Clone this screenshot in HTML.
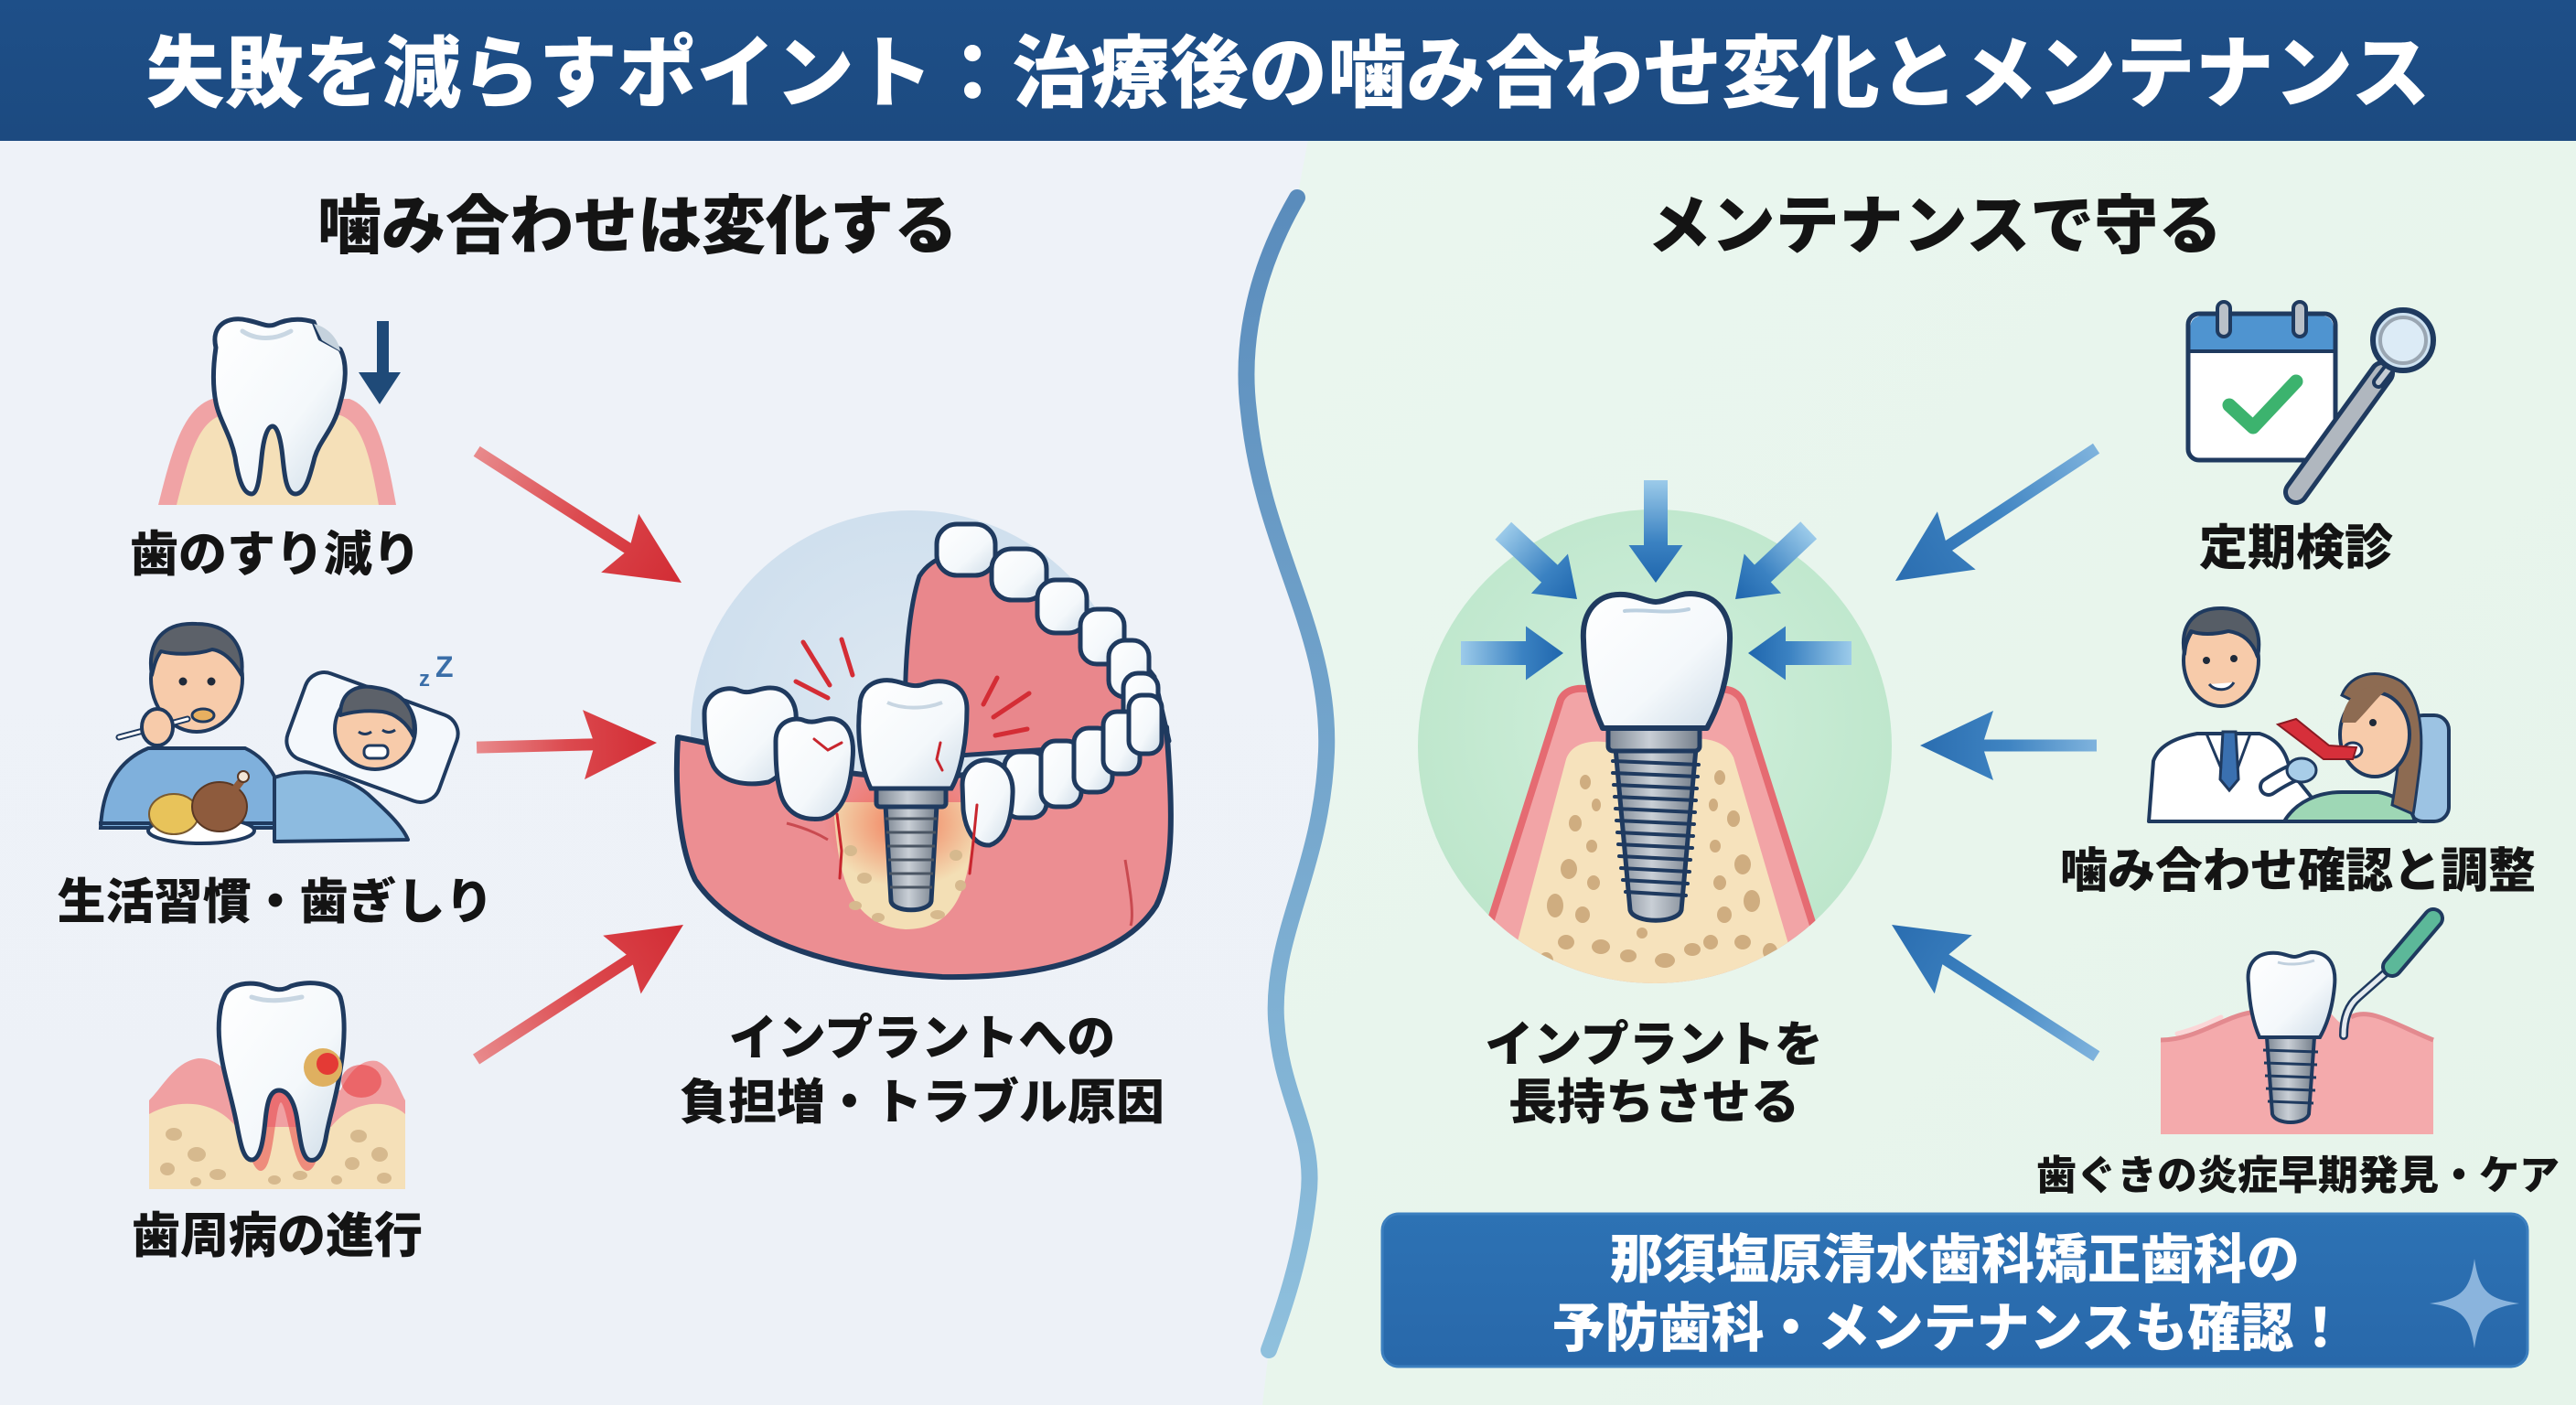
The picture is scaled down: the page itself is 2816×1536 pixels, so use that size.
<!DOCTYPE html>
<html><head><meta charset="utf-8"><style>
html,body{margin:0;padding:0;width:2816px;height:1536px;overflow:hidden;background:#eef2f8}
svg{display:block}
text{font-family:"Liberation Sans","Noto Sans CJK JP","Noto Sans CJK SC",sans-serif;font-weight:900}
</style></head><body>
<svg width="2816" height="1536" viewBox="0 0 2816 1536" xmlns="http://www.w3.org/2000/svg">
<defs>
<linearGradient id="leftBg" x1="0" y1="0" x2="0" y2="1"><stop offset="0" stop-color="#eef2f8"/><stop offset="1" stop-color="#edf1f7"/></linearGradient>
<linearGradient id="rightBg" x1="0" y1="0" x2="1" y2="1"><stop offset="0" stop-color="#eaf6ef"/><stop offset="1" stop-color="#e6f4ea"/></linearGradient>
<linearGradient id="wave" x1="0" y1="0" x2="0" y2="1"><stop offset="0" stop-color="#5a8cbc"/><stop offset="1" stop-color="#8fc0dd"/></linearGradient>
<linearGradient id="redA" x1="0" y1="0" x2="1" y2="0"><stop offset="0" stop-color="#e88a8c"/><stop offset="0.5" stop-color="#dc4a4f"/><stop offset="1" stop-color="#d22c34"/></linearGradient>
<linearGradient id="blueA" x1="0" y1="0" x2="1" y2="0"><stop offset="0" stop-color="#7fb3dd"/><stop offset="0.5" stop-color="#3f84c2"/><stop offset="1" stop-color="#2a6db0"/></linearGradient>
<linearGradient id="blueS" x1="0" y1="0" x2="1" y2="0"><stop offset="0" stop-color="#9ccbea"/><stop offset="0.6" stop-color="#3b82c2"/><stop offset="1" stop-color="#1f66ad"/></linearGradient>
<radialGradient id="blueCirc" cx="0.5" cy="0.45" r="0.55"><stop offset="0" stop-color="#dde8f2"/><stop offset="1" stop-color="#cddeed"/></radialGradient>
<radialGradient id="greenCirc" cx="0.5" cy="0.45" r="0.55"><stop offset="0" stop-color="#d2f0dd"/><stop offset="1" stop-color="#bde6cb"/></radialGradient>
<linearGradient id="toothG" x1="0" y1="0" x2="1" y2="1"><stop offset="0" stop-color="#ffffff"/><stop offset="0.6" stop-color="#f4f8fb"/><stop offset="1" stop-color="#cddbe7"/></linearGradient>
<linearGradient id="metal" x1="0" y1="0" x2="1" y2="0"><stop offset="0" stop-color="#7d8793"/><stop offset="0.45" stop-color="#c9cfd6"/><stop offset="1" stop-color="#747e8a"/></linearGradient>
<radialGradient id="redGlow" cx="0.5" cy="0.5" r="0.5"><stop offset="0" stop-color="#f05a3c" stop-opacity="0.75"/><stop offset="1" stop-color="#f05a3c" stop-opacity="0"/></radialGradient>
<linearGradient id="banner" x1="0" y1="0" x2="0" y2="1"><stop offset="0" stop-color="#2d72b4"/><stop offset="1" stop-color="#2868aa"/></linearGradient>
<linearGradient id="header" x1="0" y1="0" x2="0" y2="1"><stop offset="0" stop-color="#1e4f88"/><stop offset="1" stop-color="#1c4a80"/></linearGradient>
<clipPath id="gc"><circle cx="1809" cy="816" r="259"/></clipPath>
</defs>

<rect x="0" y="0" width="2816" height="1536" fill="url(#leftBg)"/>
<path d="M1430,153 L1418,216 C1375,290 1355,370 1365,450 C1380,600 1455,690 1450,822 C1445,950 1390,1020 1395,1114 C1400,1200 1440,1240 1430,1310 C1422,1380 1400,1440 1387,1476 L1380,1536 L2816,1536 L2816,153 Z" fill="url(#rightBg)"/>

<rect x="0" y="0" width="2816" height="154" fill="url(#header)"/>
<text x="1408" y="110" font-size="86" fill="#ffffff" text-anchor="middle" textLength="2497" lengthAdjust="spacing">失敗を減らすポイント：治療後の噛み合わせ変化とメンテナンス</text>

<path d="M1418,216 C1375,290 1355,370 1365,450 C1380,600 1455,690 1450,822 C1445,950 1390,1020 1395,1114 C1400,1200 1440,1240 1430,1310 C1422,1380 1400,1440 1387,1476" fill="none" stroke="url(#wave)" stroke-width="18" stroke-linecap="round"/>

<g fill="#141414" text-anchor="middle">
<text x="697" y="271" font-size="70">噛み合わせは変化する</text>
<text x="2115" y="271" font-size="70">メンテナンスで守る</text>
</g>

<!-- LEFT ICON 1 -->
<path d="M173,552 C188,492 200,447 232,436 L382,436 C412,447 422,492 433,552 Z" fill="#f0a3a5"/>
<path d="M193,552 C206,500 216,462 242,454 L372,454 C396,462 405,500 414,552 Z" fill="#f5e0b8"/>
<path d="M236,380 C230,355 250,345 270,350 C285,353 292,358 300,355 C315,348 330,348 343,352 L350,370 L372,382 C380,397 378,420 372,440 C365,470 350,480 344,500 C339,520 334,540 323,540 C313,540 311,520 309,500 C307,480 303,466 298,466 C292,466 288,480 286,500 C284,520 282,540 275,540 C265,540 260,520 257,500 C252,475 240,460 236,440 C232,420 233,400 236,380 Z" fill="url(#toothG)" stroke="#1f3a5f" stroke-width="5" stroke-linejoin="round"/>
<path d="M343,354 L352,372 L372,384 C370,372 360,358 343,354 Z" fill="#c5d2dd"/>
<path d="M265,362 C280,372 300,372 318,362" fill="none" stroke="#c9d7e3" stroke-width="5" stroke-linecap="round"/>
<rect x="412" y="351" width="13" height="58" fill="#1f4a78"/>
<polygon points="392,407 438,407 415,442" fill="#1f4a78"/>

<!-- LEFT ICON 2 -->
<path d="M110,905 C112,862 128,832 162,818 L268,818 C298,832 310,862 316,905 Z" fill="#7fb0dc" stroke="#1f3a5f" stroke-width="4"/>
<ellipse cx="215" cy="742" rx="50" ry="58" fill="#f7cbaa" stroke="#1f3a5f" stroke-width="4"/>
<path d="M166,738 C160,700 180,680 215,682 C250,682 268,705 264,738 C255,722 245,712 232,710 C215,716 190,716 176,712 C170,720 168,730 166,738 Z" fill="#5c6169" stroke="#1f3a5f" stroke-width="4" stroke-linejoin="round"/>
<circle cx="200" cy="745" r="4.5" fill="#1f2a3a"/><circle cx="231" cy="745" r="4.5" fill="#1f2a3a"/>
<ellipse cx="222" cy="782" rx="12" ry="7" fill="#e8b060" stroke="#1f3a5f" stroke-width="3"/>
<line x1="130" y1="806" x2="205" y2="786" stroke="#1f3a5f" stroke-width="7" stroke-linecap="round"/>
<line x1="130" y1="806" x2="205" y2="786" stroke="#ffffff" stroke-width="3" stroke-linecap="round"/>
<ellipse cx="172" cy="795" rx="17" ry="20" fill="#f7cbaa" stroke="#1f3a5f" stroke-width="4"/>
<line x1="108" y1="900" x2="323" y2="900" stroke="#1f3a5f" stroke-width="4"/>
<ellipse cx="220" cy="908" rx="58" ry="14" fill="#ffffff" stroke="#1f3a5f" stroke-width="4"/>
<ellipse cx="190" cy="890" rx="27" ry="22" fill="#e8c35a" stroke="#7a5a30" stroke-width="2"/>
<ellipse cx="240" cy="882" rx="30" ry="27" fill="#8e5b3d" stroke="#5a3824" stroke-width="2"/>
<path d="M255,865 L265,852" stroke="#8e5b3d" stroke-width="8" stroke-linecap="round"/>
<circle cx="266" cy="849" r="6" fill="#f2e6d8" stroke="#5a3824" stroke-width="2"/>
<g transform="translate(407,806) rotate(20)">
<rect x="-88" y="-50" width="176" height="100" rx="22" fill="#f4f8fc" stroke="#1f3a5f" stroke-width="4"/>
</g>
<circle cx="410" cy="797" r="44" fill="#f7cbaa" stroke="#1f3a5f" stroke-width="4"/>
<path d="M372,782 C372,752 395,748 412,752 C440,756 456,775 452,805 C445,790 432,780 418,778 C400,776 385,778 372,782 Z" fill="#5c6169" stroke="#1f3a5f" stroke-width="4" stroke-linejoin="round"/>
<path d="M392,800 q7,5 14,0 M418,798 q7,5 14,0" stroke="#1f3a5f" stroke-width="3" fill="none"/>
<rect x="398" y="815" width="26" height="14" rx="6" fill="#ffffff" stroke="#1f3a5f" stroke-width="3"/>
<path d="M300,850 C340,836 380,850 402,868 C422,886 440,903 446,918 L300,920 Z" fill="#8dbbe0" stroke="#1f3a5f" stroke-width="4" stroke-linejoin="round"/>
<text x="458" y="750" font-size="24" fill="#3a6ea8">z</text>
<text x="476" y="740" font-size="32" fill="#3a6ea8">Z</text>

<!-- LEFT ICON 3 -->
<path d="M163,1203 C178,1188 192,1160 217,1157 C242,1157 252,1178 262,1192 L372,1192 C382,1172 395,1157 412,1160 C428,1166 436,1190 443,1203 L443,1300 L163,1300 Z" fill="#f0a0a2"/>
<path d="M163,1218 C200,1198 238,1206 258,1232 L362,1232 C382,1206 420,1198 443,1218 L443,1300 L163,1300 Z" fill="#f5e0b8"/>
<g fill="#d6b98e">
<ellipse cx="190" cy="1240" rx="9" ry="7"/><ellipse cx="215" cy="1262" rx="10" ry="8"/><ellipse cx="183" cy="1278" rx="8" ry="7"/><ellipse cx="238" cy="1284" rx="9" ry="6"/><ellipse cx="214" cy="1292" rx="6" ry="5"/><ellipse cx="300" cy="1290" rx="7" ry="5"/><ellipse cx="328" cy="1285" rx="8" ry="5"/>
<ellipse cx="392" cy="1242" rx="9" ry="7"/><ellipse cx="415" cy="1262" rx="9" ry="8"/><ellipse cx="385" cy="1272" rx="8" ry="7"/><ellipse cx="420" cy="1288" rx="8" ry="6"/><ellipse cx="368" cy="1290" rx="6" ry="5"/>
</g>
<ellipse cx="395" cy="1182" rx="22" ry="18" fill="#e8373a" opacity="0.55"/>
<path d="M250,1140 C258,1200 270,1280 285,1280 C300,1280 300,1210 307,1205 C315,1210 320,1280 336,1280 C352,1280 362,1200 370,1140 Z" fill="#e8474a" opacity="0.55"/>
<path d="M245,1090 C250,1075 275,1072 290,1078 C300,1082 308,1084 318,1078 C335,1072 365,1073 372,1090 C378,1110 377,1140 372,1170 C368,1200 360,1220 356,1245 C352,1265 345,1270 338,1268 C330,1265 328,1245 325,1225 C322,1205 315,1192 305,1192 C295,1192 292,1205 290,1225 C288,1245 285,1268 275,1268 C265,1268 262,1245 258,1225 C252,1195 243,1170 240,1140 C238,1120 240,1100 245,1090 Z" fill="url(#toothG)" stroke="#1f3a5f" stroke-width="5" stroke-linejoin="round"/>
<path d="M275,1090 C290,1095 305,1095 330,1090" stroke="#c8d6e2" stroke-width="5" fill="none" stroke-linecap="round"/>
<circle cx="353" cy="1167" r="21" fill="#dfb060"/>
<circle cx="358" cy="1163" r="12" fill="#e43a35"/>

<g fill="#141414" text-anchor="middle">
<text x="301" y="624" font-size="53">歯のすり減り</text>
<text x="301" y="1004" font-size="53">生活習慣・歯ぎしり</text>
<text x="303" y="1369" font-size="53">歯周病の進行</text>
<text x="1008" y="1153" font-size="53">インプラントへの</text>
<text x="1008" y="1223" font-size="53">負担増・トラブル原因</text>
</g>

<g transform="translate(745,637) rotate(32.7)"><polygon points="0,0 -80,-38 -70,-6.5 -266,-6.5 -266,6.5 -70,6.5 -80,38" fill="url(#redA)"/></g>
<g transform="translate(718,812) rotate(-1.5)"><polygon points="0,0 -80,-38 -70,-6.5 -197,-6.5 -197,6.5 -70,6.5 -80,38" fill="url(#redA)"/></g>
<g transform="translate(747,1011) rotate(-33)"><polygon points="0,0 -80,-38 -70,-6.5 -270,-6.5 -270,6.5 -70,6.5 -80,38" fill="url(#redA)"/></g>

<!-- CENTER LEFT jaw -->
<circle cx="997" cy="800" r="242" fill="url(#blueCirc)"/>
<path d="M990,800 C988,740 992,670 1005,630 C1025,598 1070,600 1110,622 C1170,650 1225,690 1262,740 L1278,810 L990,830 Z" fill="#e9878c" stroke="#1f3a5f" stroke-width="5" stroke-linejoin="round"/>
<g fill="url(#toothG)" stroke="#1f3a5f" stroke-width="5">
<rect x="1024" y="573" width="64" height="56" rx="22"/>
<rect x="1084" y="600" width="60" height="56" rx="22"/>
<rect x="1134" y="634" width="54" height="58" rx="20"/>
<rect x="1181" y="666" width="48" height="60" rx="18"/>
<rect x="1212" y="700" width="44" height="62" rx="18"/>
<rect x="1228" y="736" width="38" height="64" rx="16"/>
</g>
<path d="M741,806 C737,870 744,930 760,962 C800,1022 900,1060 1030,1068 C1150,1070 1232,1040 1264,990 C1284,950 1282,880 1275,795 C1180,820 1100,850 1000,850 C900,850 820,820 741,806 Z" fill="#ec8e92" stroke="#1f3a5f" stroke-width="6" stroke-linejoin="round"/>
<path d="M911,877 C915,950 925,1012 990,1016 C1052,1016 1062,960 1065,877 Z" fill="#f3dfb5"/>
<ellipse cx="990" cy="900" rx="90" ry="70" fill="url(#redGlow)"/>
<g fill="#d6b98e"><ellipse cx="930" cy="930" rx="7" ry="6"/><ellipse cx="945" cy="960" rx="8" ry="6"/><ellipse cx="935" cy="990" rx="7" ry="5"/><ellipse cx="1045" cy="935" rx="7" ry="6"/><ellipse cx="1050" cy="968" rx="6" ry="6"/><ellipse cx="960" cy="1003" rx="7" ry="5"/><ellipse cx="1025" cy="1000" rx="8" ry="5"/></g>
<path d="M1230,940 C1235,970 1240,1000 1236,1012" stroke="#c94a50" stroke-width="3" fill="none"/>
<path d="M860,900 C880,905 895,912 905,918" stroke="#c94a50" stroke-width="3" fill="none"/>
<g fill="url(#toothG)" stroke="#1f3a5f" stroke-width="5">
<rect x="1098" y="822" width="46" height="72" rx="16"/>
<rect x="1138" y="810" width="44" height="72" rx="16"/>
<rect x="1174" y="796" width="42" height="70" rx="16"/>
<rect x="1206" y="778" width="40" height="68" rx="15"/>
<rect x="1234" y="760" width="36" height="64" rx="14"/>
</g>
<path d="M770,780 C770,758 792,748 808,755 C820,760 828,752 842,752 C862,752 872,770 870,790 C868,820 862,845 840,855 C815,860 790,855 780,838 C772,822 770,800 770,780 Z" fill="url(#toothG)" stroke="#1f3a5f" stroke-width="5"/>
<path d="M848,810 C848,790 866,782 880,788 C892,792 900,784 912,786 C930,790 934,810 932,830 C930,860 922,890 898,895 C872,898 856,885 852,862 C848,845 848,825 848,810 Z" fill="url(#toothG)" stroke="#1f3a5f" stroke-width="5"/>
<path d="M1052,858 C1052,840 1066,830 1080,831 C1100,833 1108,850 1107,868 C1106,895 1100,918 1082,924 C1064,925 1055,905 1053,885 Z" fill="url(#toothG)" stroke="#1f3a5f" stroke-width="5"/>
<path d="M968,880 L1024,880 L1018,985 C1016,998 976,998 974,985 Z" fill="url(#metal)" stroke="#1f3a5f" stroke-width="5"/>
<g stroke="#4a5563" stroke-width="3"><line x1="968" y1="895" x2="1024" y2="895"/><line x1="969" y1="910" x2="1023" y2="910"/><line x1="970" y1="925" x2="1022" y2="925"/><line x1="971" y1="940" x2="1021" y2="940"/><line x1="972" y1="955" x2="1020" y2="955"/><line x1="973" y1="970" x2="1019" y2="970"/></g>
<rect x="958" y="858" width="76" height="24" rx="4" fill="url(#metal)" stroke="#1f3a5f" stroke-width="5"/>
<path d="M940,772 C940,748 962,740 980,745 C992,748 1000,752 1010,748 C1030,740 1057,746 1057,775 C1057,810 1050,845 1040,862 L952,862 C942,842 936,805 940,772 Z" fill="url(#toothG)" stroke="#1f3a5f" stroke-width="5"/>
<path d="M970,768 C985,775 1010,776 1030,768" stroke="#c8d6e2" stroke-width="4" fill="none"/>
<g stroke="#d42d35" stroke-width="5" stroke-linecap="round">
<line x1="878" y1="702" x2="907" y2="749"/><line x1="920" y1="699" x2="932" y2="738"/><line x1="870" y1="745" x2="905" y2="763"/>
<line x1="1090" y1="741" x2="1075" y2="770"/><line x1="1125" y1="758" x2="1086" y2="784"/><line x1="1123" y1="797" x2="1088" y2="804"/>
</g>
<g stroke="#c8262e" stroke-width="3" fill="none" stroke-linecap="round">
<path d="M890,808 L905,820 L920,812"/><path d="M1028,812 L1024,830 L1030,842"/><path d="M915,890 L920,930 L918,960"/><path d="M1068,880 L1064,920 L1060,955"/>
</g>

<!-- CENTER RIGHT implant -->
<circle cx="1809" cy="816" r="259" fill="url(#greenCirc)"/>
<g clip-path="url(#gc)">
<path d="M1600,1100 L1706,765 C1712,752 1730,750 1745,756 L1872,756 C1888,750 1900,756 1905,768 L2010,1100 Z" fill="#f2a4a6"/>
<path d="M1600,1100 L1706,765 C1712,752 1730,750 1745,756 L1872,756 C1888,750 1900,756 1905,768 L2010,1100" fill="none" stroke="#e56b72" stroke-width="8"/>
<path d="M1640,1100 L1712,830 C1718,812 1740,808 1760,812 L1850,808 C1868,806 1888,812 1895,828 L1975,1100 Z" fill="#f6e2bc"/>
<g fill="#cfad80">
<ellipse cx="1733" cy="855" rx="6" ry="8"/><ellipse cx="1745" cy="880" rx="5" ry="7"/><ellipse cx="1722" cy="900" rx="7" ry="9"/><ellipse cx="1740" cy="925" rx="6" ry="7"/><ellipse cx="1715" cy="950" rx="9" ry="11"/><ellipse cx="1742" cy="965" rx="7" ry="8"/><ellipse cx="1700" cy="990" rx="9" ry="13"/><ellipse cx="1730" cy="1000" rx="8" ry="9"/><ellipse cx="1712" cy="1030" rx="9" ry="8"/><ellipse cx="1750" cy="1035" rx="10" ry="8"/><ellipse cx="1690" cy="1050" rx="8" ry="9"/><ellipse cx="1780" cy="1045" rx="9" ry="7"/><ellipse cx="1820" cy="1050" rx="11" ry="8"/><ellipse cx="1850" cy="1038" rx="9" ry="7"/>
<ellipse cx="1880" cy="850" rx="6" ry="8"/><ellipse cx="1873" cy="880" rx="5" ry="7"/><ellipse cx="1895" cy="895" rx="7" ry="9"/><ellipse cx="1875" cy="925" rx="6" ry="7"/><ellipse cx="1905" cy="945" rx="9" ry="11"/><ellipse cx="1880" cy="965" rx="7" ry="8"/><ellipse cx="1915" cy="985" rx="9" ry="12"/><ellipse cx="1885" cy="1000" rx="8" ry="9"/><ellipse cx="1905" cy="1030" rx="9" ry="8"/><ellipse cx="1870" cy="1030" rx="8" ry="8"/><ellipse cx="1935" cy="1040" rx="8" ry="9"/><ellipse cx="1795" cy="1020" rx="6" ry="6"/>
</g>
</g>
<path d="M1766,818 L1854,818 L1838,995 C1834,1010 1786,1010 1782,995 Z" fill="url(#metal)" stroke="#1f3a5f" stroke-width="5"/>
<g stroke="#1f3a5f" stroke-width="4" stroke-linecap="round">
<line x1="1763" y1="832" x2="1857" y2="836"/><line x1="1763" y1="845" x2="1856" y2="849"/><line x1="1764" y1="858" x2="1855" y2="862"/><line x1="1765" y1="871" x2="1854" y2="875"/><line x1="1766" y1="884" x2="1853" y2="888"/><line x1="1767" y1="897" x2="1852" y2="901"/><line x1="1768" y1="910" x2="1851" y2="914"/><line x1="1769" y1="923" x2="1850" y2="927"/><line x1="1770" y1="936" x2="1848" y2="940"/><line x1="1772" y1="949" x2="1847" y2="953"/><line x1="1774" y1="962" x2="1845" y2="966"/><line x1="1777" y1="975" x2="1843" y2="979"/>
</g>
<rect x="1758" y="793" width="100" height="28" rx="5" fill="url(#metal)" stroke="#1f3a5f" stroke-width="5"/>
<path d="M1731,700 C1729,670 1745,648 1775,650 C1790,651 1800,658 1810,658 C1822,658 1832,649 1848,649 C1878,650 1892,672 1891,700 C1890,740 1880,770 1866,796 L1752,796 C1740,770 1732,740 1731,700 Z" fill="url(#toothG)" stroke="#1f3a5f" stroke-width="6" stroke-linejoin="round"/>
<path d="M1776,668 C1795,665 1820,672 1846,666" stroke="#bcd0e0" stroke-width="4" fill="none" stroke-linecap="round"/>

<g transform="translate(1810,637) rotate(90)"><polygon points="0,0 -41,-29.5 -41,-13 -112,-13 -112,13 -41,13 -41,29.5" fill="url(#blueS)"/></g>
<g transform="translate(1724,655) rotate(42.8)"><polygon points="0,0 -41,-29.5 -41,-13 -110,-13 -110,13 -41,13 -41,29.5" fill="url(#blueS)"/></g>
<g transform="translate(1897,655) rotate(136.8)"><polygon points="0,0 -41,-29.5 -41,-13 -110,-13 -110,13 -41,13 -41,29.5" fill="url(#blueS)"/></g>
<g transform="translate(1709,714)"><polygon points="0,0 -41,-29.5 -41,-13 -112,-13 -112,13 -41,13 -41,29.5" fill="url(#blueS)"/></g>
<g transform="translate(1911,714) rotate(180)"><polygon points="0,0 -41,-29.5 -41,-13 -113,-13 -113,13 -41,13 -41,29.5" fill="url(#blueS)"/></g>

<g transform="translate(2072,635) rotate(146.6)"><polygon points="0,0 -80,-38 -70,-6.5 -263,-6.5 -263,6.5 -70,6.5 -80,38" fill="url(#blueA)"/></g>
<g transform="translate(2099,815) rotate(180)"><polygon points="0,0 -80,-38 -70,-6.5 -193,-6.5 -193,6.5 -70,6.5 -80,38" fill="url(#blueA)"/></g>
<g transform="translate(2068,1011) rotate(-147.3)"><polygon points="0,0 -80,-38 -70,-6.5 -266,-6.5 -266,6.5 -70,6.5 -80,38" fill="url(#blueA)"/></g>

<!-- RIGHT ICON 1 -->
<rect x="2392" y="343" width="161" height="160" rx="12" fill="#ffffff" stroke="#1f3a5f" stroke-width="5"/>
<path d="M2394.5,383 L2394.5,357 C2394.5,350 2400,345.5 2406,345.5 L2539,345.5 C2546,345.5 2550.5,350 2550.5,357 L2550.5,383 Z" fill="#4f94d0"/>
<line x1="2394" y1="384" x2="2551" y2="384" stroke="#1f3a5f" stroke-width="4"/>
<rect x="2424" y="330" width="14" height="38" rx="7" fill="#b9c0c8" stroke="#1f3a5f" stroke-width="4"/>
<rect x="2507" y="330" width="14" height="38" rx="7" fill="#b9c0c8" stroke="#1f3a5f" stroke-width="4"/>
<polyline points="2437,443 2463,467 2510,417" fill="none" stroke="#3cb36e" stroke-width="15" stroke-linecap="round" stroke-linejoin="round"/>
<line x1="2604" y1="408" x2="2510" y2="538" stroke="#1f3a5f" stroke-width="28" stroke-linecap="round"/>
<line x1="2604" y1="408" x2="2510" y2="538" stroke="#b0b7bf" stroke-width="18" stroke-linecap="round"/>
<line x1="2620" y1="392" x2="2600" y2="418" stroke="#1f3a5f" stroke-width="14" stroke-linecap="round"/>
<line x1="2620" y1="392" x2="2600" y2="418" stroke="#c5ccd3" stroke-width="6" stroke-linecap="round"/>
<circle cx="2627" cy="372" r="33" fill="#cfe3f2" stroke="#1f3a5f" stroke-width="6"/>
<circle cx="2627" cy="372" r="25" fill="#dcebf6" stroke="#9aa6b2" stroke-width="4"/>

<!-- RIGHT ICON 2 -->
<rect x="2633" y="782" width="44" height="116" rx="16" fill="#9cc3e3" stroke="#1f3a5f" stroke-width="4"/>
<path d="M2548,898 L2349,898 L2354,832 C2360,814 2380,806 2402,802 L2470,802 C2490,808 2500,822 2503,842 Z" fill="#ffffff" stroke="#1f3a5f" stroke-width="4" stroke-linejoin="round"/>
<polygon points="2430,800 2444,800 2447,852 2437,864 2427,852" fill="#3a70b0" stroke="#1f3a5f" stroke-width="3"/>
<path d="M2412,802 L2428,840 M2460,802 L2446,840" stroke="#1f3a5f" stroke-width="3" fill="none"/>
<path d="M2480,860 C2495,850 2505,845 2515,842" stroke="#1f3a5f" stroke-width="22" stroke-linecap="round" fill="none"/>
<path d="M2480,860 C2495,850 2505,845 2515,842" stroke="#ffffff" stroke-width="14" stroke-linecap="round" fill="none"/>
<ellipse cx="2428" cy="722" rx="41" ry="50" fill="#f7cbaa" stroke="#1f3a5f" stroke-width="4"/>
<path d="M2388,715 C2382,680 2402,664 2430,665 C2458,666 2474,685 2468,718 C2462,700 2450,692 2436,690 C2420,694 2405,694 2395,690 C2390,698 2389,706 2388,715 Z" fill="#565d66" stroke="#1f3a5f" stroke-width="4" stroke-linejoin="round"/>
<circle cx="2412" cy="722" r="4" fill="#1f2a3a"/><circle cx="2442" cy="720" r="4" fill="#1f2a3a"/>
<path d="M2415,748 C2422,756 2436,756 2442,746" stroke="#1f3a5f" stroke-width="3" fill="#ffffff"/>
<path d="M2497,898 C2510,876 2535,866 2560,866 L2600,866 C2622,870 2636,882 2640,898 Z" fill="#9ed7b5" stroke="#1f3a5f" stroke-width="4"/>
<path d="M2560,760 C2570,735 2600,730 2625,745 C2645,760 2650,800 2645,840 C2642,862 2640,880 2638,890 L2615,880 C2620,850 2625,820 2620,790 Z" fill="#8d6b52" stroke="#1f3a5f" stroke-width="3"/>
<ellipse cx="2596" cy="803" rx="38" ry="46" fill="#f7cbaa" stroke="#1f3a5f" stroke-width="4"/>
<path d="M2560,790 C2562,760 2585,745 2612,752 C2600,760 2590,775 2575,790 Z" fill="#8d6b52"/>
<circle cx="2594" cy="790" r="4" fill="#1f2a3a"/>
<ellipse cx="2572" cy="820" rx="10" ry="8" fill="#ffffff" stroke="#1f3a5f" stroke-width="3"/>
<polygon points="2490,792 2510,786 2546,815 2576,817 2572,830 2540,830" fill="#d62f3a" stroke="#8a1a22" stroke-width="2"/>
<ellipse cx="2516" cy="842" rx="16" ry="13" fill="#a8cde8" stroke="#1f3a5f" stroke-width="3"/>

<!-- RIGHT ICON 3 -->
<path d="M2362,1137 C2400,1137 2430,1112 2460,1107 L2548,1108 C2558,1118 2562,1126 2570,1112 C2590,1100 2622,1122 2660,1137 L2660,1240 L2362,1240 Z" fill="#f4aaac"/>
<path d="M2362,1137 C2400,1137 2430,1112 2460,1107 M2570,1112 C2590,1100 2622,1122 2660,1137" fill="none" stroke="#e38a8f" stroke-width="5"/>
<path d="M2380,1130 C2400,1125 2415,1118 2428,1112" stroke="#fbd6d7" stroke-width="5" fill="none" stroke-linecap="round"/>
<path d="M2478,1134 L2530,1134 L2524,1218 C2520,1230 2488,1230 2484,1218 Z" fill="url(#metal)" stroke="#1f3a5f" stroke-width="4"/>
<g stroke="#1f3a5f" stroke-width="3"><line x1="2474" y1="1148" x2="2534" y2="1150"/><line x1="2475" y1="1162" x2="2533" y2="1164"/><line x1="2476" y1="1176" x2="2532" y2="1178"/><line x1="2477" y1="1190" x2="2531" y2="1192"/><line x1="2479" y1="1204" x2="2529" y2="1206"/></g>
<path d="M2458,1075 C2455,1052 2468,1040 2490,1042 C2498,1043 2503,1046 2508,1046 C2515,1046 2520,1041 2528,1041 C2548,1042 2554,1058 2552,1078 C2550,1100 2545,1118 2536,1134 L2470,1134 C2463,1118 2459,1098 2458,1075 Z" fill="url(#toothG)" stroke="#1f3a5f" stroke-width="4"/>
<path d="M2490,1052 C2500,1055 2515,1055 2530,1050" stroke="#c0d0de" stroke-width="3" fill="none"/>
<path d="M2613,1059 L2578,1090 C2566,1100 2562,1115 2562,1132" fill="none" stroke="#1f3a5f" stroke-width="10" stroke-linecap="round"/>
<path d="M2613,1059 L2578,1090 C2566,1100 2562,1115 2562,1132" fill="none" stroke="#e4eaef" stroke-width="5" stroke-linecap="round"/>
<line x1="2660" y1="1004" x2="2615" y2="1057" stroke="#1f3a5f" stroke-width="24" stroke-linecap="round"/>
<line x1="2660" y1="1004" x2="2615" y2="1057" stroke="#5cb899" stroke-width="16" stroke-linecap="round"/>

<g fill="#141414" text-anchor="middle">
<text x="2510" y="617" font-size="53">定期検診</text>
<text x="2512" y="970" font-size="52">噛み合わせ確認と調整</text>
<text x="2512" y="1300" font-size="44">歯ぐきの炎症早期発見・ケア</text>
<text x="1808" y="1160" font-size="53">インプラントを</text>
<text x="1808" y="1223" font-size="53">長持ちさせる</text>
</g>

<rect x="1511" y="1327" width="1252" height="167" rx="18" fill="url(#banner)" stroke="#3c7fbf" stroke-width="3"/>
<g fill="#ffffff" text-anchor="middle">
<text x="2137" y="1397" font-size="58">那須塩原清水歯科矯正歯科の</text>
<text x="2131" y="1472" font-size="58">予防歯科・メンテナンスも確認！</text>
</g>
<path d="M2705,1376 C2710,1410 2718,1420 2754,1425 C2718,1430 2710,1440 2705,1474 C2700,1440 2692,1430 2656,1425 C2692,1420 2700,1410 2705,1376 Z" fill="#8ab4dd"/>
</svg>
</body></html>
